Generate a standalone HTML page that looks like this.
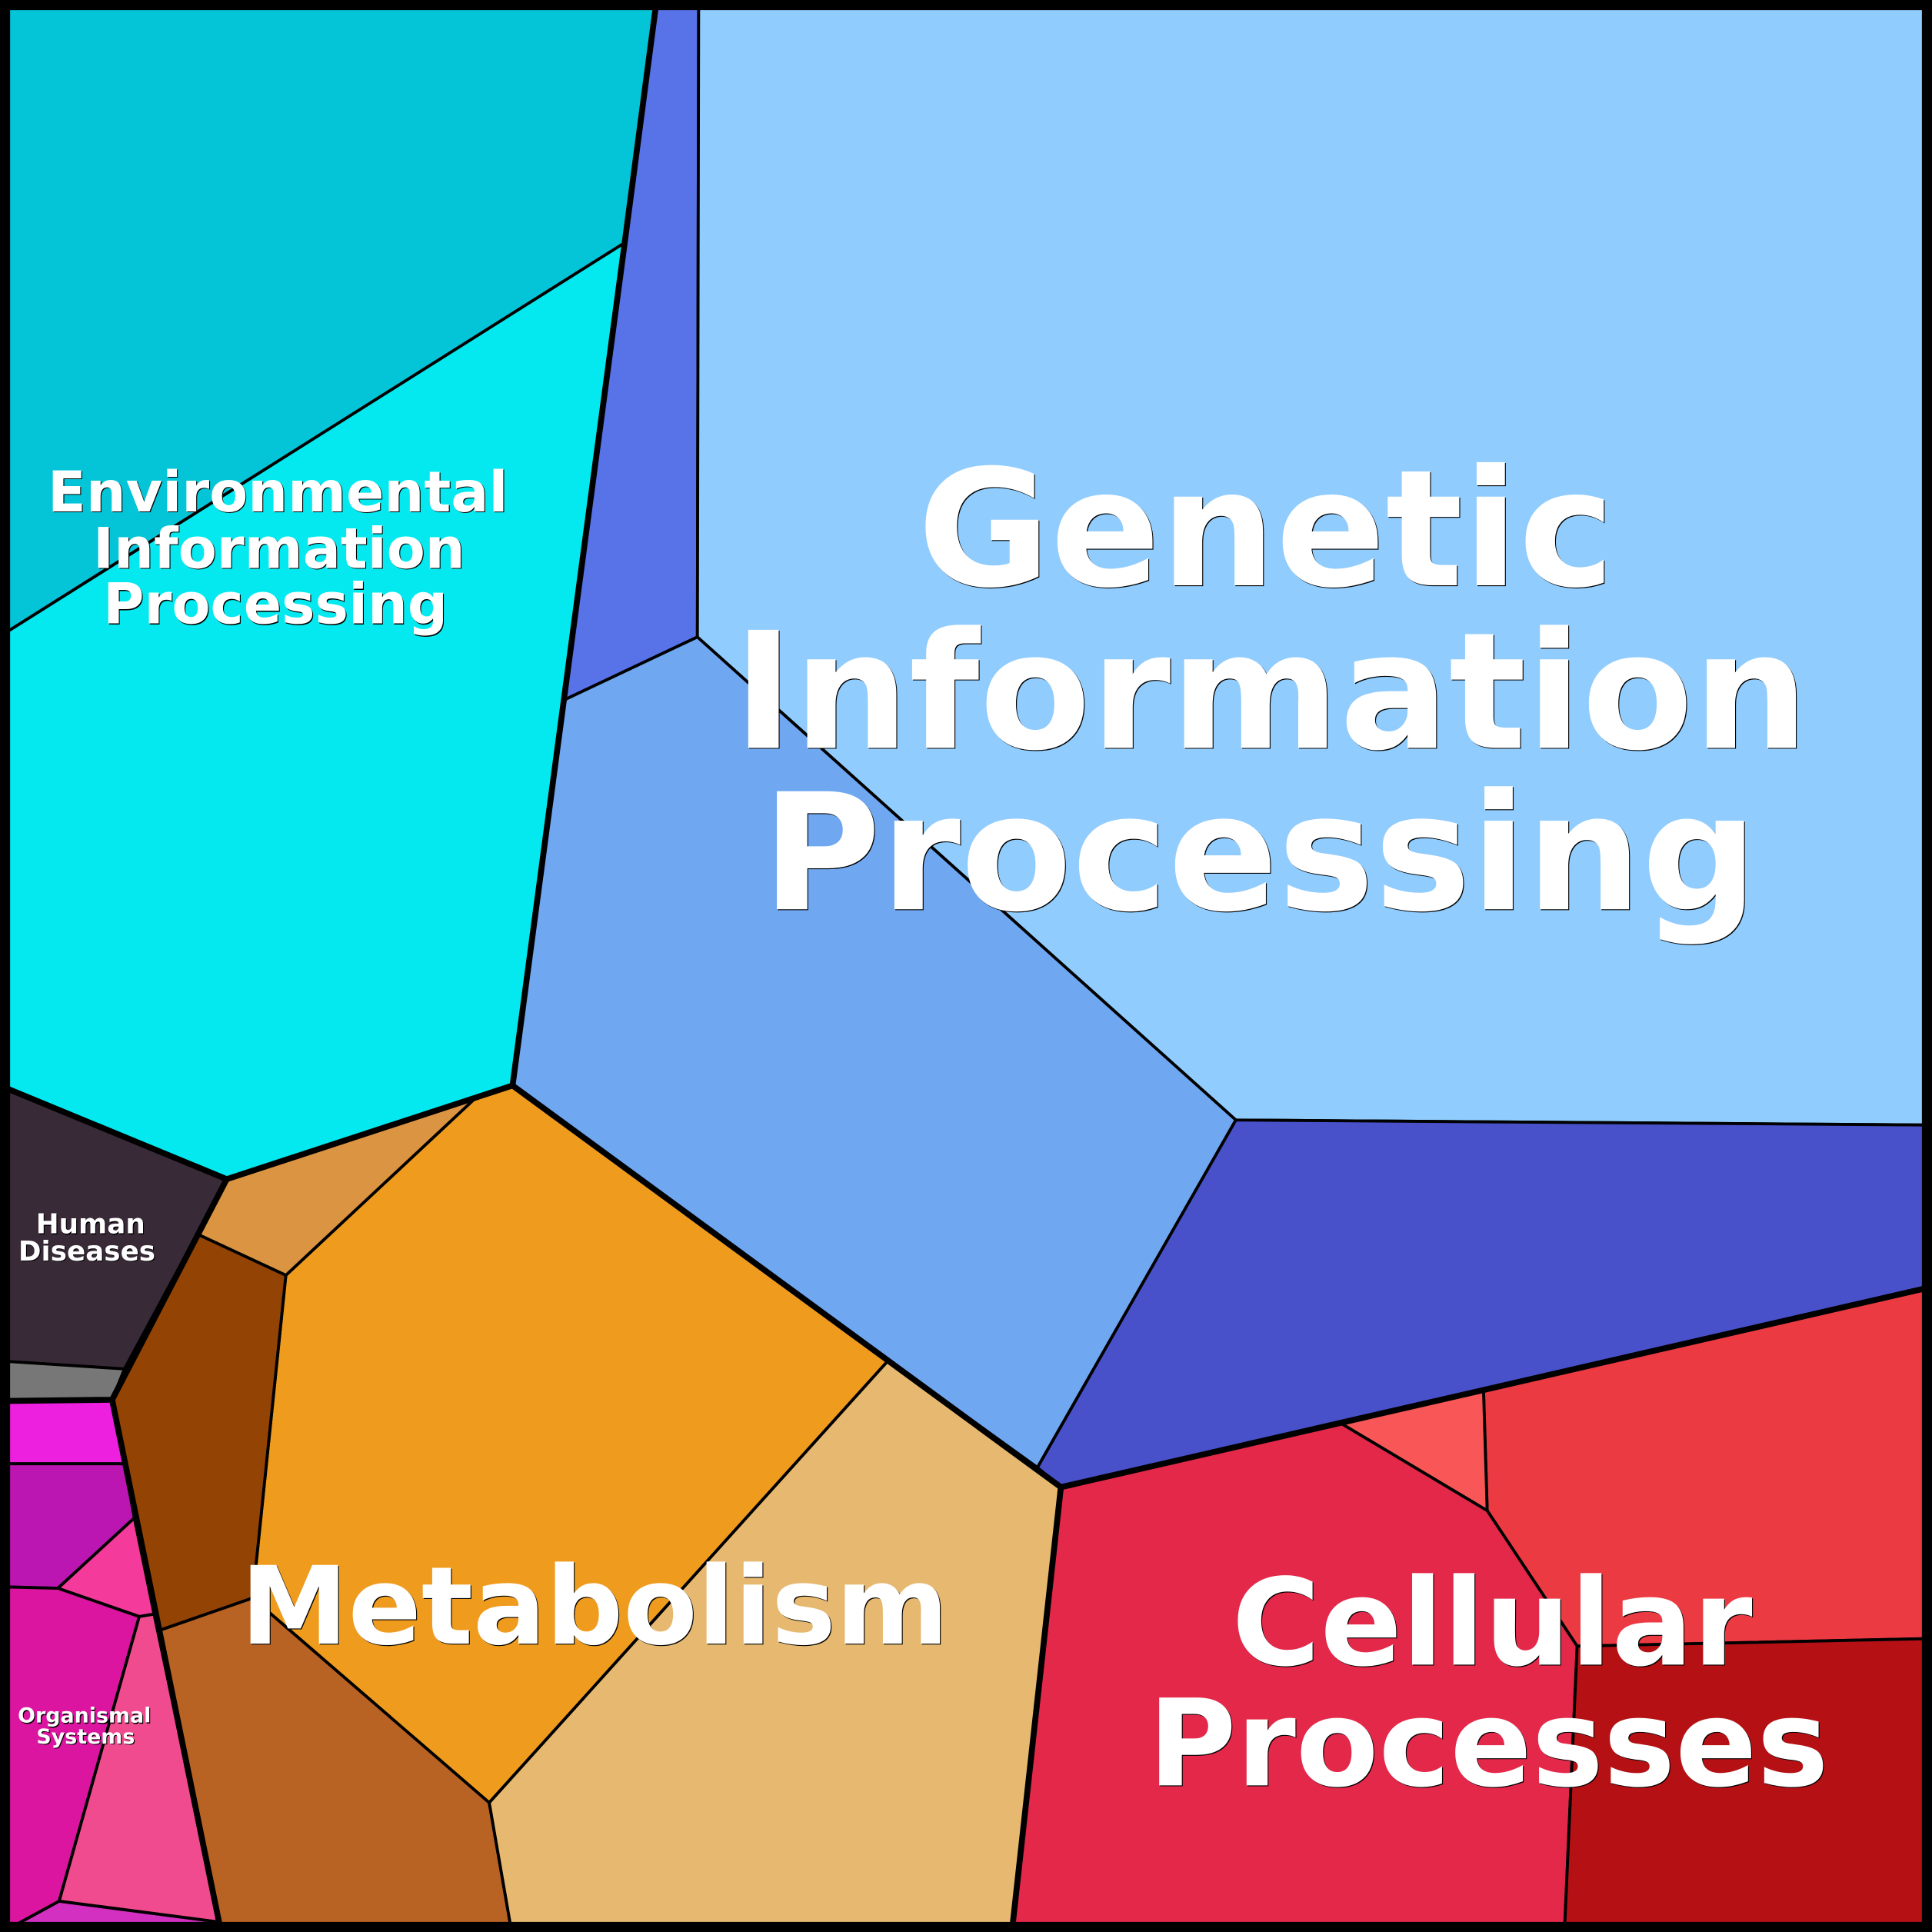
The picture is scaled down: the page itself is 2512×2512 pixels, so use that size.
<!DOCTYPE html>
<html><head><meta charset="utf-8">
<style>
html,body{margin:0;padding:0;background:#000;width:2512px;height:2512px;overflow:hidden}
svg{position:absolute;left:0;top:0;display:block;width:2512px;height:2512px}
.p polygon{stroke:#000;stroke-width:2.4;stroke-linejoin:round}
.t{fill:none;stroke:#000;stroke-width:4.8;stroke-linejoin:miter}
#w{position:absolute;left:0;top:0;width:1568px;height:1568px;transform:scale(1.60204);transform-origin:0 0}
#w div{position:absolute;line-height:0;white-space:nowrap;transform:translateX(-50%);font-family:"DejaVu Sans",sans-serif;font-weight:700;color:#fff;text-shadow:0.7px 0.7px 0 #000}
</style></head><body>
<svg viewBox="0 0 1568 1568" xmlns="http://www.w3.org/2000/svg">
<g class="p">
<polygon fill="#04C4D7" points="7,7 532,7 507,197 7,512"/>
<polygon fill="#04E9EF" points="7,512 507,197 416,881 184,957 7,884"/>
<polygon fill="#5872E8" points="533,7 567,7 566,517 458,568 507,197"/>
<polygon fill="#90CCFD" points="567,7 1561,7 1561,913 1003,909 566,517"/>
<polygon fill="#70A7F1" points="566,517 1003,909 842,1191 721,1104 416,881 458,568"/>
<polygon fill="#4851C9" points="1003,909 1561,913 1561,1046 861,1207 842,1191"/>
<polygon fill="#EC3A43" points="1561,1046 1204,1128 1207,1226 1280,1336 1561,1330"/>
<polygon fill="#F95757" points="1088,1155 1204,1128 1207,1226"/>
<polygon fill="#E4284A" points="861,1207 1088,1155 1207,1226 1280,1336 1270,1561 822,1561"/>
<polygon fill="#B51115" points="1280,1336 1561,1330 1561,1561 1270,1561"/>
<polygon fill="#E7B970" points="721,1104 861,1207 822,1561 414,1561 397,1463"/>
<polygon fill="#EF9C1E" points="416,881 721,1104 397,1463 205,1297 232,1035 385,892"/>
<polygon fill="#DB9441" points="184,957 385,892 232,1035 161,1002"/>
<polygon fill="#934304" points="161,1002 232,1035 205,1297 130,1323 91,1136"/>
<polygon fill="#B86323" points="130,1323 205,1297 397,1463 414,1561 178,1561"/>
<polygon fill="#392A38" points="7,884 184,957 101,1111 7,1105"/>
<polygon fill="#777777" points="7,1105 101,1111 91,1136 7,1137"/>
<polygon fill="#EE20DF" points="7,1138 91,1136 101,1188 7,1188"/>
<polygon fill="#BC16B2" points="7,1188 101,1188 109,1232 47,1289 7,1288"/>
<polygon fill="#F43B9B" points="47,1289 109,1232 125,1310 113,1312"/>
<polygon fill="#DC15A0" points="7,1288 47,1289 113,1312 48,1543 15,1561 7,1561"/>
<polygon fill="#F14B8F" points="113,1312 125,1310 178,1560 48,1543"/>
<polygon fill="#D32FC0" points="48,1543 178,1560 178,1561 15,1561"/>
</g>
<polyline class="t" points="7,884 184,957 416,881 861,1207 1561,1046"/>
<polyline class="t" points="416,881 507,197 532,7"/>
<polyline class="t" points="861,1207 822,1561"/>
<polyline class="t" points="184,957 91,1136 7,1137"/>
<polyline class="t" points="91,1136 178,1561"/>
<rect x="3.75" y="3.75" width="1560.5" height="1560.5" fill="none" stroke="#000" stroke-width="7.5"/>
</svg>
<div id="w">
<div style="left:1027.5px;top:430.8px;font-size:131.5px">Genetic</div>
<div style="left:1031.5px;top:562.8px;font-size:131.5px">Information</div>
<div style="left:1022.5px;top:693.8px;font-size:131.5px">Processing</div>
<div style="left:225.5px;top:400.3px;font-size:45.5px">Environmental</div>
<div style="left:226.5px;top:446.3px;font-size:45.5px">Information</div>
<div style="left:223.5px;top:491.3px;font-size:45.5px">Processing</div>
<div style="left:482.5px;top:1303.6px;font-size:87.7px">Metabolism</div>
<div style="left:1211px;top:1318px;font-size:97.8px">Cellular</div>
<div style="left:1208px;top:1416px;font-size:97.8px">Processes</div>
<div style="left:73.5px;top:994.2px;font-size:22.3px">Human</div>
<div style="left:70.5px;top:1016.2px;font-size:22.3px">Diseases</div>
<div style="left:68.5px;top:1391.5px;font-size:16.8px">Organismal</div>
<div style="left:69.5px;top:1408.5px;font-size:16.8px">Systems</div>
</div>
</body></html>
